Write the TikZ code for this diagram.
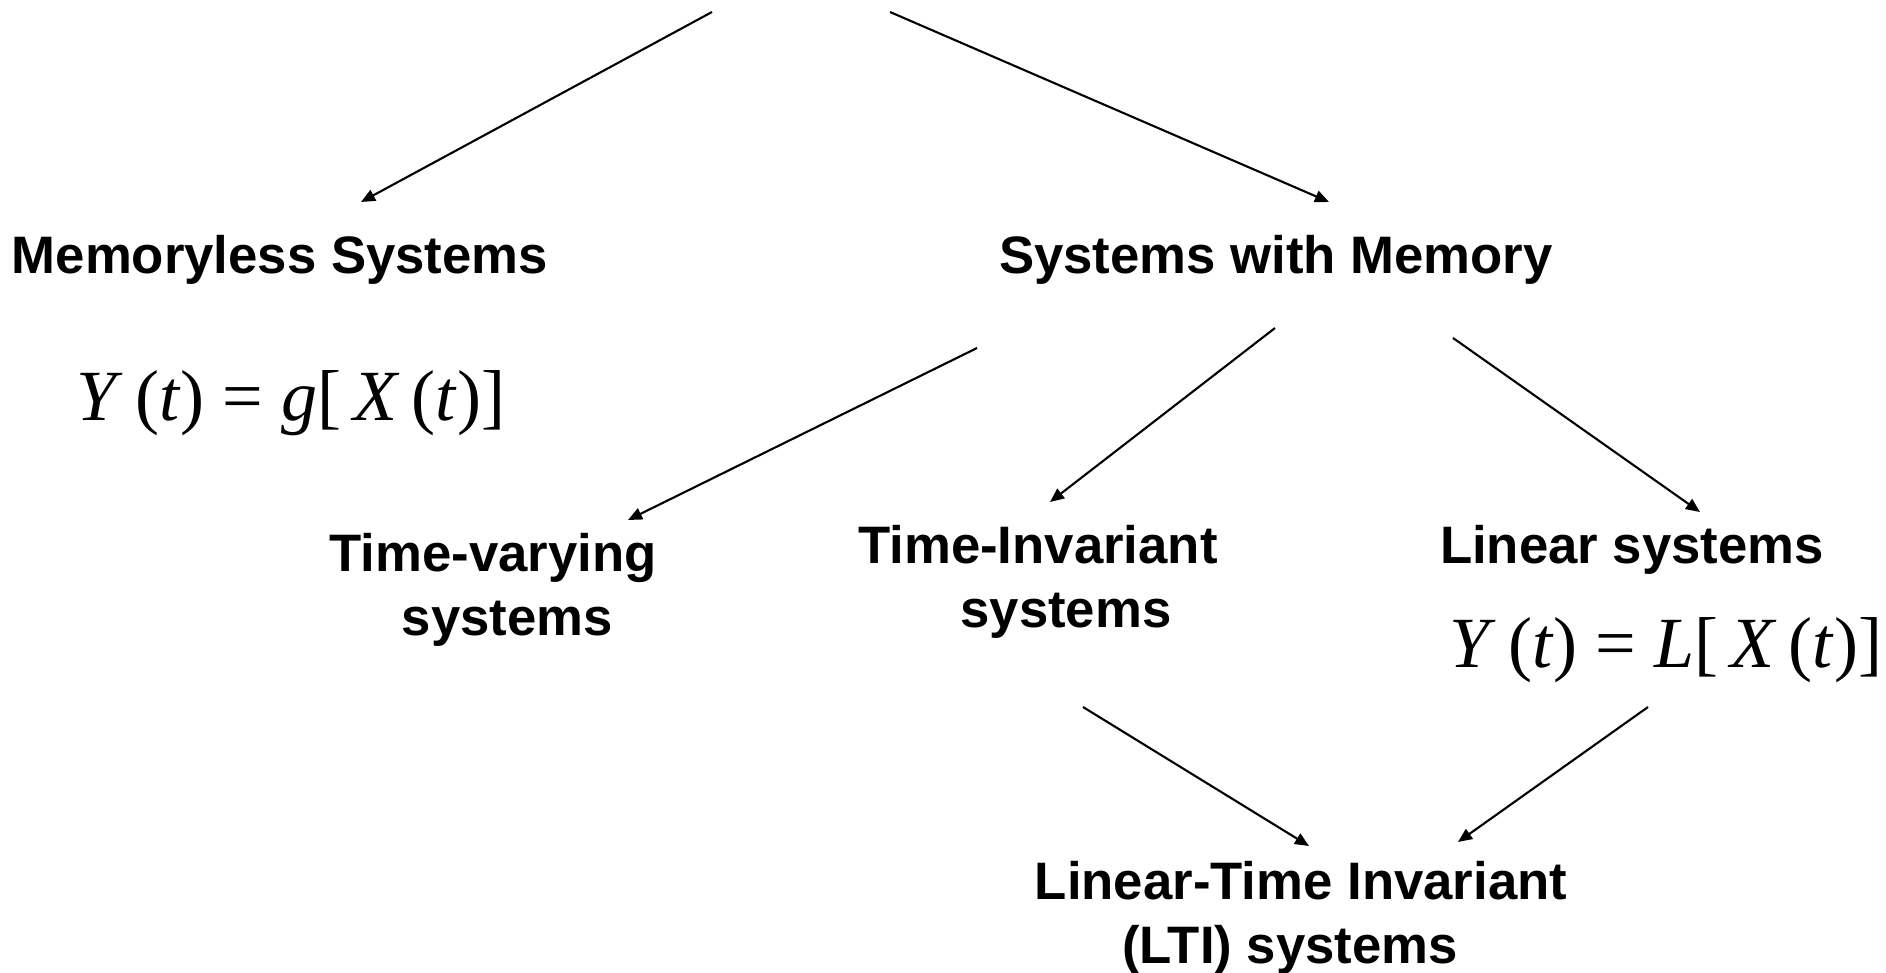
\documentclass[tikz,border=0pt]{standalone}
\usepackage{fontspec}
\setmainfont{Liberation Sans}
\newfontfamily\formfont{Liberation Serif}
\usetikzlibrary{arrows.meta}

\begin{document}
\begin{tikzpicture}[x=1cm, y=1cm,
  lbl/.style={font=\fontsize{15}{18.2}\selectfont\bfseries, align=center, inner sep=0pt},
  frm/.style={font=\fontsize{20.5}{24}\selectfont\formfont, inner sep=0pt},
  arr/.style={line width=0.6pt, -{Triangle[length=4pt,width=3.4pt]}}]

\useasboundingbox (0,0) rectangle (18.86,9.72);

\coordinate (rootl) at (7.12,9.60);
\coordinate (rootr) at (8.90,9.60);

\node[lbl] (mem) at (2.80,7.12) {Memoryless Systems};
\node[frm] (geqg) at (2.91,5.69) {\textit{Y}\,(\textit{t}) = \textit{g}[\,\textit{X}\,(\textit{t})]};

\node[lbl] (sysmem) at (12.76,7.12) {Systems with Memory};

\node[lbl] (tv) at (4.93,3.82) {Time-varying\\\hspace*{0.29cm}systems};
\node[lbl] (ti) at (10.38,3.90) {Time-Invariant\\\hspace*{0.56cm}systems};
\node[lbl] (lin) at (16.32,4.22) {Linear systems};
\node[frm] (geql) at (16.66,3.22) {\textit{Y}\,(\textit{t}) = \textit{L}[\,\textit{X}\,(\textit{t})]};

\node[lbl] (lti) at (13.01,0.54) {Linear-Time Invariant\\(LTI) systems\hspace*{0.22cm}};

\draw[arr] (rootl) -- ([shift={(0.81,0.58)}]mem.center);
\draw[arr] (rootr) -- ([shift={(0.53,0.58)}]sysmem.center);

\draw[arr] ([shift={(-2.99,-0.88)}]sysmem.center) -- ([shift={(1.35,0.70)}]tv.center);
\draw[arr] ([shift={(-0.01,-0.68)}]sysmem.center) -- ([shift={(0.12,0.80)}]ti.center);
\draw[arr] ([shift={(1.77,-0.78)}]sysmem.center) -- ([shift={(0.68,0.38)}]lin.center);

\draw[arr] ([shift={(0.45,-1.25)}]ti.center) -- ([shift={(0.08,0.72)}]lti.center);
\draw[arr] ([shift={(-0.18,-0.57)}]geql.center) -- ([shift={(1.57,0.76)}]lti.center);

\end{tikzpicture}
\end{document}
